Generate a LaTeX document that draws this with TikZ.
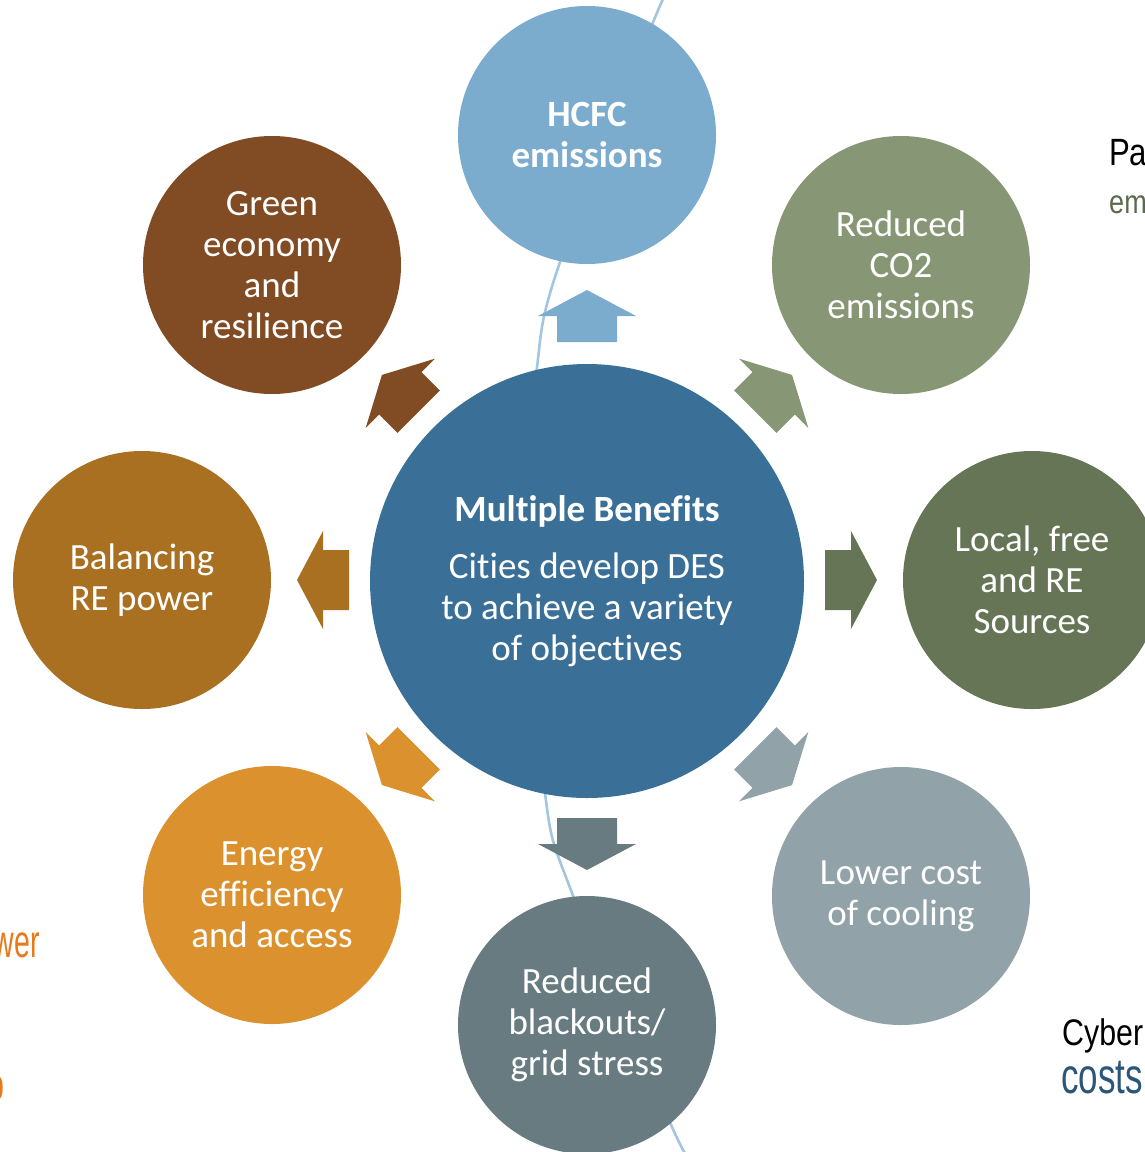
\documentclass[tikz,border=0pt]{standalone}
\usepackage{graphicx}
\usepackage{fontspec}
\setmainfont[RawFeature=-liga]{Carlito}
\newfontfamily\edgefont{Liberation Sans}

\definecolor{hubblue}{HTML}{3A7097}
\definecolor{hcfcblue}{HTML}{7BACCE}
\definecolor{cotwo}{HTML}{879674}
\definecolor{localgreen}{HTML}{667555}
\definecolor{coolgray}{HTML}{91A2A8}
\definecolor{gridslate}{HTML}{677B81}
\definecolor{effgold}{HTML}{DB912D}
\definecolor{balochre}{HTML}{A87020}
\definecolor{greenbrown}{HTML}{814B24}
\definecolor{arcblue}{HTML}{A2C6E0}
\definecolor{edgeorange}{HTML}{E87A1E}
\definecolor{edgegreen}{HTML}{5B6A4C}
\definecolor{edgeblue}{HTML}{2A5679}

\begin{document}
\begin{tikzpicture}[x=1pt,y=-1pt,
  bubble/.style={circle, fill=#1, draw=none, minimum size=258pt, inner sep=0pt,
    text=white, align=center, font=\fontsize{37}{41}\selectfont},
  hubstyle/.style={circle, fill=hubblue, draw=none, minimum size=434pt, inner sep=0pt,
    text=white, align=center, font=\fontsize{37}{41}\selectfont},
  edgetext/.style={inner sep=0pt, font=\edgefont\fontsize{#1}{#1}\selectfont}
]
\useasboundingbox (0,0) rectangle (1145,1152);
\clip (0,0) rectangle (1145,1152);

% long background arc running behind the column of circles
\draw[arcblue, line width=2.6pt]
  plot[smooth, tension=0.6] coordinates {(670,-8) (654,20) (559,265) (537,367)
    (531,480) (534,600) (545,793) (572,893) (672,1127) (692,1160)};

% central circle
\node[hubstyle] (hub) at (587,581)
  {\textbf{Multiple Benefits}\\[16pt]Cities develop DES\\to achieve a variety\\of objectives};

% surrounding benefit circles
\node[bubble=hcfcblue, font=\bfseries\fontsize{37}{41}\selectfont] (hcfc) at (587,135) {HCFC\\emissions};
\node[bubble=cotwo]      (co2)        at (901,265) {Reduced\\CO2\\emissions};
\node[bubble=localgreen] (local)      at (1032,580) {Local, free\\and RE\\Sources};
\node[bubble=coolgray]   (cooling)    at (901,896) {Lower cost\\of cooling};
\node[bubble=gridslate]  (grid)       at (587,1025) {Reduced\\blackouts/\\grid stress};
\node[bubble=effgold]    (efficiency) at (272,895) {Energy\\efficiency\\and access};
\node[bubble=balochre]   (balancing)  at (142,580) {Balancing\\RE power};
\node[bubble=greenbrown] (green)      at (272,265) {Green\\economy\\and\\resilience};

% block arrows pointing outward from the hub
\newcommand\blockarrow[2]{%
  \fill[#1, shift={(587,580)}, rotate=#2]
    (238,-30) -- (264,-30) -- (264,-49) -- (290,0) -- (264,49) -- (264,30) -- (238,30) -- cycle;}
\blockarrow{hcfcblue}{90}
\blockarrow{cotwo}{45}
\blockarrow{localgreen}{0}
\blockarrow{coolgray}{-45}
\blockarrow{gridslate}{-90}
\blockarrow{effgold}{-135}
\blockarrow{balochre}{180}
\blockarrow{greenbrown}{135}

% fragments of neighbouring captions cut by the frame
\node[edgetext=38, anchor=base west, text=black] (pa) at (1109,165) {\scalebox{0.82}[1]{Pa}};
\node[edgetext=33, anchor=base west, text=edgegreen] (em) at (1109,213) {\scalebox{0.82}[1]{em}};
\node[edgetext=37, anchor=base west, text=black] (cyber) at (1062,1045) {\scalebox{0.82}[1]{Cyber}};
\node[edgetext=50, anchor=base west, text=edgeblue] (costs) at (1061,1093) {\scalebox{0.7}[1]{costs}};
\node[edgetext=46, anchor=base east, text=edgeorange] (wer) at (40,957) {\scalebox{0.62}[1]{wer}};
\node[edgetext=46, anchor=base east, text=edgeorange] (otail) at (5,1100) {\scalebox{0.62}[1]{o}};
\end{tikzpicture}
\end{document}
